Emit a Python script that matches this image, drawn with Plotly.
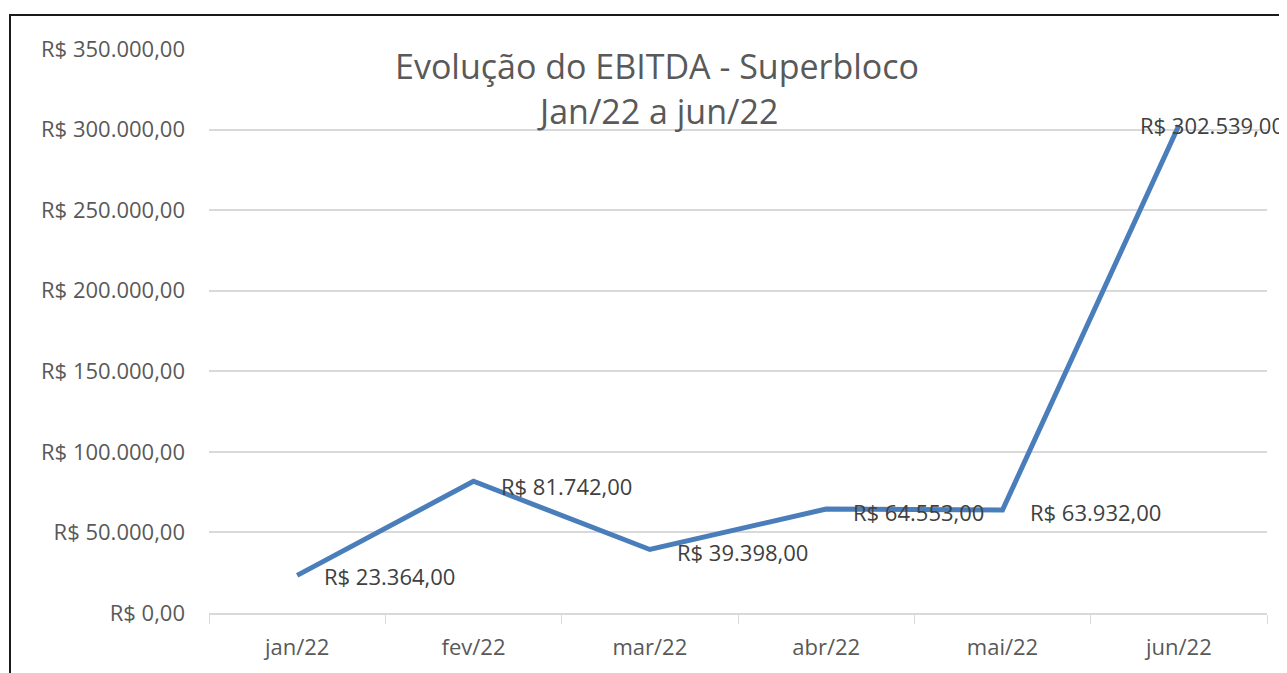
import plotly.graph_objects as go

months = ["jan/22", "fev/22", "mar/22", "abr/22", "mai/22", "jun/22"]
ebitda = [23364, 81742, 39398, 64553, 63932, 302539]
data_labels = ["R$ 23.364,00", "R$ 81.742,00", "R$ 39.398,00", "R$ 64.553,00", "R$ 63.932,00", "R$ 302.539,00"]
tick_vals = [0, 50000, 100000, 150000, 200000, 250000, 300000, 350000]
tick_text = ["R$ 0,00", "R$ 50.000,00", "R$ 100.000,00", "R$ 150.000,00", "R$ 200.000,00",
             "R$ 250.000,00", "R$ 300.000,00", "R$ 350.000,00"]
title_line1 = "Evolução do EBITDA - Superbloco"
title_line2 = "Jan/22 a jun/22"

FONT = "Open Sans"
# plot area in page pixels: x 209..1267, y 49..615 (page has an 8px body offset)
PX0, PX1, PY0, PY1 = 209, 1267, 49, 615


def px(x):
    return (x - PX0) / (PX1 - PX0)


def py(y):
    return (PY1 - y) / (PY1 - PY0)


fig = go.Figure()
fig.add_trace(go.Scatter(x=months, y=ebitda, mode="lines",
                         line=dict(color="#4a7ebb", width=5), hoverinfo="skip"))

label_shift = [25, 25, 25, 25, 25, -41]
label_yshift = [-1, -5, -2, -3, -2, 0]
for m, v, t, xs, ys in zip(months, ebitda, data_labels, label_shift, label_yshift):
    fig.add_annotation(x=m, y=v, text=t, showarrow=False, xanchor="left", yanchor="middle",
                       xshift=xs, yshift=ys, font=dict(family=FONT, size=22, color="#404040"))

fig.add_annotation(xref="paper", yref="paper", x=px(657), y=py(66), text=title_line1,
                   showarrow=False, xanchor="center", yanchor="middle",
                   font=dict(family=FONT, size=34, color="#595959"))
fig.add_annotation(xref="paper", yref="paper", x=px(657), y=py(111), text=title_line2,
                   showarrow=False, xanchor="center", yanchor="middle",
                   font=dict(family=FONT, size=34, color="#595959"))

# outer chart border (top and left edges visible)
fig.add_shape(type="line", xref="paper", yref="paper", x0=px(9), x1=px(1295),
              y0=py(15), y1=py(15), line=dict(color="#1a1a1a", width=2))
fig.add_shape(type="line", xref="paper", yref="paper", x0=px(10), x1=px(10),
              y0=py(15), y1=py(690), line=dict(color="#1a1a1a", width=2))

fig.update_layout(
    width=1279, height=665,
    margin=dict(l=PX0 - 8, r=1287 - PX1, t=PY0 - 8, b=673 - PY1),
    plot_bgcolor="white", paper_bgcolor="white",
    showlegend=False,
    font=dict(family=FONT, color="#595959"),
    xaxis=dict(type="category", tickson="boundaries", ticks="outside", ticklen=9,
               tickcolor="#d9d9d9", showline=True, linecolor="#d9d9d9", linewidth=1.5,
               showgrid=False, tickfont=dict(family=FONT, size=22, color="#595959"),
               ticklabelstandoff=14, range=[-0.5, 5.5], fixedrange=True),
    yaxis=dict(range=[0, 350000], tickvals=tick_vals, ticktext=tick_text, showgrid=True,
               gridcolor="#d9d9d9", gridwidth=1.5, zeroline=False, showline=False,
               ticks="", ticklabelstandoff=23,
               tickfont=dict(family=FONT, size=22, color="#595959"), fixedrange=True),
)

fig.write_html("out.html")
